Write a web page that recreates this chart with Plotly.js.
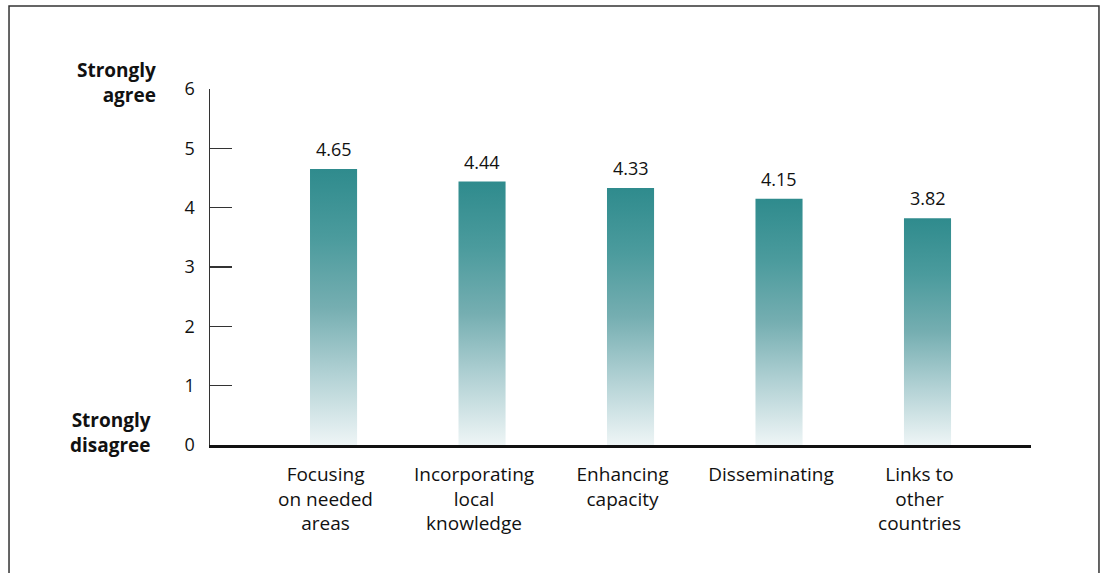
<!DOCTYPE html>
<html>
<head>
<meta charset="utf-8">
<script src="https://cdn.plot.ly/plotly-3.0.1.min.js"></script>
<style>html,body{margin:0;padding:0;background:#fff;}#chart{width:1105px;height:573px;}</style>
</head>
<body>
<div id="chart"></div>
<script>
const categories = ["Focusing<br>on needed<br>areas", "Incorporating<br>local<br>knowledge", "Enhancing<br>capacity", "Disseminating", "Links to<br>other<br>countries"];
const values = [4.65, 4.44, 4.33, 4.15, 3.82];
const yTicks = [0, 1, 2, 3, 4, 5, 6];

const barWidth = 0.317;
const FONT = "Open Sans, sans-serif";

const traces = values.map((v, i) => ({
  type: "scatter",
  mode: "none",
  x: [i - barWidth / 2, i + barWidth / 2, i + barWidth / 2, i - barWidth / 2, i - barWidth / 2],
  y: [0, 0, v, v, 0],
  fill: "toself",
  fillgradient: {
    type: "vertical",
    colorscale: [[0, "#eef5f6"], [0.25, "#b3d2d5"], [0.5, "#75aeb1"], [0.75, "#4b9b9d"], [1, "#2f8b8d"]]
  },
  hoverinfo: "skip",
  showlegend: false
}));

const annotations = values.map((v, i) => ({
  x: i, y: v, xref: "x", yref: "y",
  text: v.toFixed(2), showarrow: false,
  yanchor: "bottom", yshift: 6,
  font: {family: FONT, size: 18, color: "#111"}
}));
annotations.push(
  {xref: "paper", yref: "paper", x: -0.0633, y: 1.018, xanchor: "right", yanchor: "middle",
   text: "<b>Strongly<br>agree</b>", showarrow: false, align: "right",
   font: {family: FONT, size: 19, color: "#111"}},
  {xref: "paper", yref: "paper", x: -0.0694, y: 0.034, xanchor: "right", yanchor: "middle",
   text: "<b>Strongly<br>disagree</b>", showarrow: false, align: "right",
   font: {family: FONT, size: 19, color: "#111"}}
);

const layout = {
  width: 1105, height: 573,
  margin: {l: 210, r: 74, t: 89, b: 128},
  paper_bgcolor: "#fff", plot_bgcolor: "#fff",
  showlegend: false,
  xaxis: {
    range: [-0.832, 4.697],
    tickvals: [0, 1, 2, 3, 4],
    ticktext: categories,
    showgrid: false, zeroline: false,
    showline: true, linecolor: "#111", linewidth: 3,
    ticks: "", ticklabelshift: -8, ticklabelstandoff: 10,
    tickfont: {family: FONT, size: 19, color: "#111"},
    fixedrange: true
  },
  yaxis: {
    range: [0, 6],
    tickvals: yTicks,
    showgrid: false, zeroline: false,
    showline: true, linecolor: "#333", linewidth: 1.5,
    ticks: "inside", ticklen: 22, tickwidth: 1.2, tickcolor: "#333",
    ticklabelstandoff: 10,
    tickfont: {family: FONT, size: 18, color: "#111"},
    fixedrange: true
  },
  shapes: [{
    type: "rect", xref: "paper", yref: "paper",
    x0: -0.2448, x1: 1.0828, y0: -0.40, y1: 1.2331,
    line: {color: "#333", width: 1.5}, fillcolor: "rgba(0,0,0,0)", layer: "below"
  }],
  annotations: annotations
};

Plotly.newPlot("chart", traces, layout, {displayModeBar: false, staticPlot: true});
</script>
</body>
</html>
